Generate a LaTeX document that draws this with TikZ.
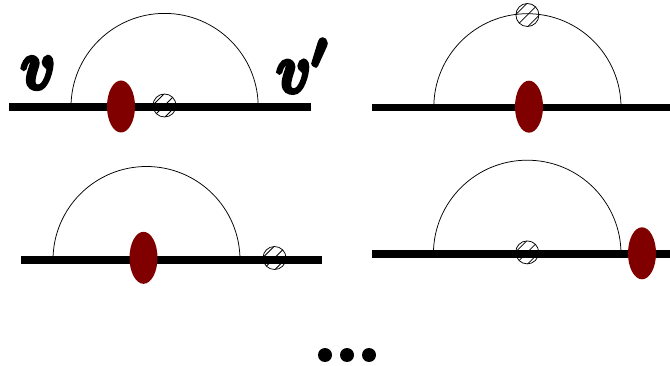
\documentclass[tikz,border=0pt]{standalone}
\usepackage{graphicx}
\usetikzlibrary{calc}
\tikzset{
  x=1pt,y=-1pt,
  rail/.style={line width=7.4pt,black},
  loopline/.style={line width=0.75pt,black},
  redblob/.style={fill=red!50!black,draw=none},
  hatchring/.style={line width=0.75pt,black},
  biglabel/.style={inner sep=0pt,anchor=center}
}
\newcommand{\hblob}[2]{%
  \begin{scope}[shift={(#1,#2)}]
    \begin{scope}
      \clip (0,0) circle[radius=11.5];
      \foreach \d in {-6,0,6}{
        \draw[hatchring] ($(-14,14)+(\d,\d)$) -- ($(14,-14)+(\d,\d)$);
      }
    \end{scope}
    \draw[hatchring] (0,0) circle[radius=11.5];
  \end{scope}}
\newcommand{\diagram}[7]{%
  \draw[rail] (#1,#3) -- (#2,#3);
  \draw[loopline] (#4,#3) arc[start angle=180,end angle=360,radius={(#5-#4)/2}];
  \fill[redblob] (#6,#7) ellipse[x radius=14,y radius=26];
}
\newcommand{\heavy}[1]{\special{pdf:literal direct 2 Tr 0.6 w}\boldmath$#1$\special{pdf:literal direct 0 Tr}}
\begin{document}
\begin{tikzpicture}
\useasboundingbox (0,0) rectangle (670,366);
\diagram{9}{310.5}{107}{71}{258.2}{121}{106.5}
\hblob{164.5}{105.5}
\diagram{372}{670}{107.3}{433.8}{621}{529}{106.7}
\hblob{527.4}{15}
\diagram{21}{322}{260}{53}{240}{143.5}{257.8}
\hblob{274.5}{258}
\diagram{372}{670}{254}{433.4}{621}{642}{253.3}
\hblob{527.2}{252.4}
\node[biglabel] (vl) at (38,73) {\scalebox{5.8}[7]{\heavy{v}}};
\node[biglabel] (vr) at (303,66) {\scalebox{5.8}[7]{\heavy{v'}}};
\foreach \n/\x in {a/325,b/347,c/369}{
  \fill (\x,355) circle[radius=7];
}
\end{tikzpicture}
\end{document}
